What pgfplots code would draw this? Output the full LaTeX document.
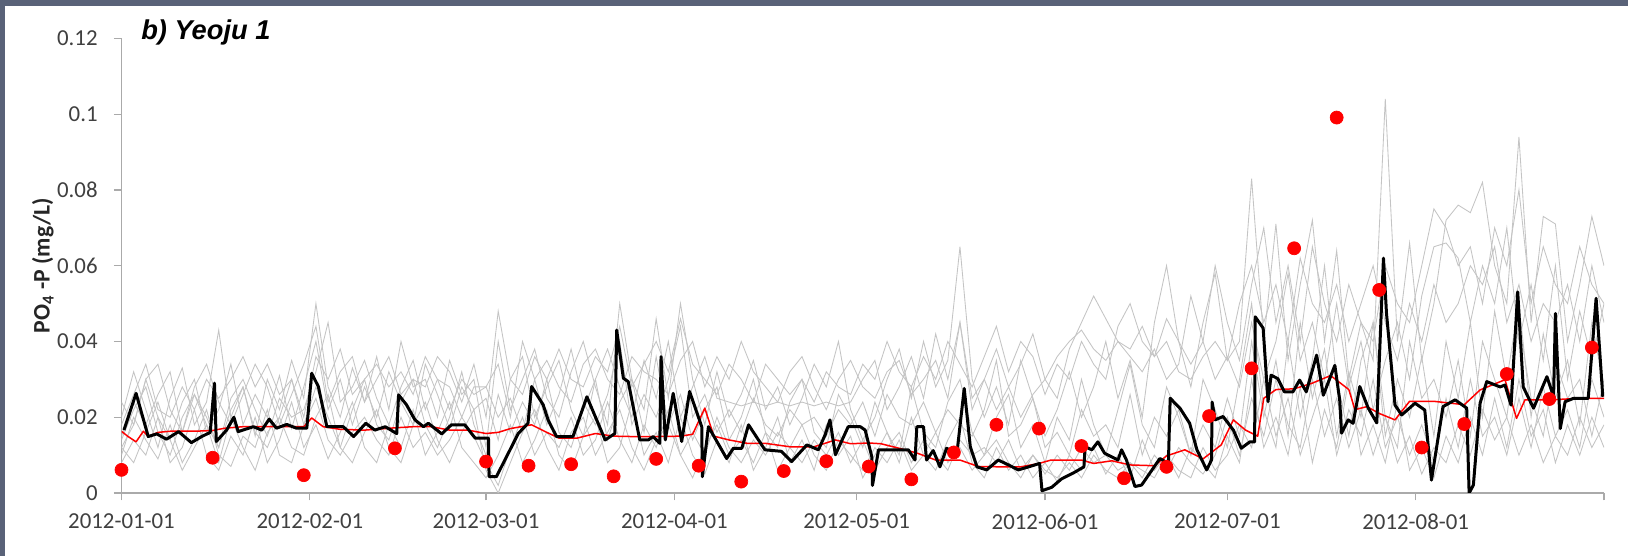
\documentclass[border=0pt]{standalone}
\usepackage{fontspec}
\setmainfont{Carlito}
\newfontfamily\titlefont{Liberation Sans}
\usepackage{pgfplots}
\usepackage{pgfplotstable}
\pgfplotsset{compat=1.18}
\definecolor{frame}{RGB}{89,98,120}
\definecolor{axgray}{RGB}{170,170,170}
\definecolor{ticktext}{RGB}{64,64,64}
\definecolor{ens}{RGB}{196,196,196}
\definecolor{obsred}{RGB}{255,0,0}

\pgfplotstableread{
d g1 g2 g3 g4 g5 g6 g7 g8 g9
0 0.020 0.012 0.008 0.015 0.010 0.018 0.014 0.012 0.024
2 0.032 0.018 0.014 0.024 0.020 0.026 0.022 0.008 0.018
4 0.022 0.030 0.010 0.018 0.014 0.034 0.028 0.016 0.030
6 0.012 0.020 0.020 0.026 0.009 0.022 0.016 0.024 0.034
8 0.025 0.014 0.008 0.032 0.018 0.020 0.010 0.014 0.022
10 0.033 0.024 0.012 0.016 0.008 0.028 0.020 0.006 0.016
12 0.018 0.030 0.022 0.026 0.014 0.022 0.026 0.012 0.028
14 0.024 0.016 0.010 0.020 0.022 0.030 0.018 0.018 0.034
16 0.043 0.022 0.006 0.012 0.010 0.025 0.012 0.008 0.024
18 0.020 0.034 0.015 0.025 0.007 0.030 0.022 0.020 0.018
20 0.028 0.018 0.010 0.030 0.015 0.036 0.028 0.012 0.026
22 0.015 0.026 0.020 0.022 0.012 0.028 0.016 0.006 0.034
24 0.030 0.020 0.008 0.015 0.022 0.034 0.012 0.016 0.028
26 0.022 0.031 0.014 0.025 0.010 0.026 0.020 0.020 0.018
28 0.035 0.017 0.024 0.020 0.008 0.030 0.030 0.012 0.026
30 0.025 0.028 0.012 0.022 0.018 0.020 0.018 0.010 0.034
32 0.050 0.040 0.018 0.032 0.025 0.036 0.028 0.020 0.044
34 0.028 0.022 0.009 0.045 0.014 0.030 0.020 0.026 0.024
36 0.020 0.030 0.016 0.024 0.010 0.038 0.012 0.012 0.032
38 0.033 0.018 0.024 0.028 0.016 0.026 0.022 0.008 0.036
40 0.024 0.028 0.012 0.035 0.020 0.030 0.030 0.016 0.024
42 0.036 0.020 0.008 0.025 0.014 0.034 0.018 0.022 0.030
44 0.022 0.032 0.018 0.018 0.010 0.028 0.014 0.012 0.036
46 0.040 0.024 0.012 0.028 0.020 0.032 0.024 0.008 0.026
48 0.028 0.018 0.022 0.035 0.012 0.026 0.030 0.018 0.030
50 0.030 0.034 0.010 0.022 0.016 0.036 0.018 0.024 0.028
52 0.020 0.026 0.016 0.030 0.010 0.030 0.012 0.014 0.036
54 0.035 0.017 0.024 0.028 0.014 0.022 0.020 0.008 0.032
56 0.026 0.028 0.012 0.020 0.020 0.030 0.032 0.016 0.024
58 0.030 0.022 0.008 0.028 0.015 0.026 0.018 0.022 0.034
60 0.012 0.025 0.004 0.028 0.008 0.028 0.010 0.006 0.020
62 0.040 0.014 0.010 0.020 0.002 0.034 0.026 0.000 0.048
64 0.022 0.030 0.018 0.025 0.012 0.020 0.016 0.008 0.030
66 0.030 0.036 0.008 0.016 0.020 0.040 0.024 0.016 0.026
68 0.038 0.020 0.014 0.030 0.010 0.030 0.018 0.022 0.036
70 0.025 0.028 0.022 0.018 0.016 0.035 0.030 0.012 0.030
72 0.020 0.035 0.010 0.026 0.012 0.028 0.016 0.006 0.038
74 0.032 0.022 0.006 0.038 0.020 0.024 0.012 0.016 0.030
76 0.040 0.015 0.015 0.024 0.010 0.034 0.022 0.020 0.028
78 0.028 0.030 0.020 0.018 0.014 0.038 0.030 0.010 0.036
80 0.018 0.038 0.008 0.026 0.024 0.030 0.014 0.016 0.032
82 0.050 0.028 0.012 0.040 0.014 0.026 0.024 0.022 0.044
84 0.030 0.020 0.024 0.018 0.008 0.036 0.030 0.012 0.028
86 0.022 0.035 0.010 0.026 0.018 0.032 0.016 0.006 0.034
88 0.046 0.025 0.016 0.020 0.012 0.030 0.036 0.014 0.040
90 0.025 0.040 0.008 0.030 0.022 0.026 0.018 0.018 0.032
92 0.050 0.020 0.020 0.044 0.010 0.035 0.026 0.010 0.046
94 0.030 0.028 0.010 0.020 0.016 0.040 0.014 0.004 0.034
96 0.018 0.036 0.005 0.026 0.010 0.028 0.022 0.012 0.030
98 0.032 0.025 0.014 0.016 0.020 0.036 0.028 0.018 0.026
100 0.020 0.024 0.008 0.022 0.012 0.030 0.014 0.010 0.034
102 0.026 0.023 0.018 0.016 0.008 0.040 0.020 0.014 0.030
104 0.035 0.024 0.006 0.025 0.014 0.032 0.030 0.008 0.024
106 0.022 0.023 0.012 0.018 0.010 0.028 0.016 0.016 0.034
108 0.028 0.024 0.020 0.015 0.016 0.024 0.012 0.006 0.030
110 0.018 0.023 0.008 0.022 0.012 0.032 0.024 0.012 0.026
112 0.025 0.024 0.014 0.018 0.008 0.036 0.030 0.018 0.030
114 0.034 0.023 0.006 0.020 0.014 0.028 0.016 0.010 0.024
116 0.028 0.024 0.018 0.015 0.010 0.022 0.012 0.006 0.032
118 0.040 0.023 0.010 0.022 0.016 0.030 0.026 0.014 0.028
120 0.022 0.024 0.015 0.018 0.008 0.035 0.020 0.010 0.026
122 0.014 0.030 0.004 0.024 0.014 0.028 0.012 0.006 0.034
124 0.020 0.035 0.010 0.015 0.006 0.025 0.024 0.012 0.030
126 0.030 0.022 0.016 0.026 0.012 0.032 0.016 0.008 0.040
128 0.038 0.028 0.008 0.020 0.016 0.035 0.010 0.014 0.032
130 0.025 0.036 0.020 0.018 0.008 0.026 0.028 0.006 0.028
132 0.040 0.025 0.010 0.024 0.014 0.030 0.016 0.010 0.036
134 0.028 0.042 0.006 0.016 0.010 0.035 0.012 0.016 0.030
136 0.035 0.030 0.014 0.022 0.006 0.025 0.024 0.008 0.040
138 0.065 0.045 0.020 0.018 0.014 0.045 0.030 0.012 0.034
140 0.030 0.025 0.008 0.015 0.010 0.022 0.016 0.006 0.028
142 0.020 0.030 0.004 0.022 0.012 0.030 0.010 0.010 0.036
144 0.028 0.022 0.012 0.035 0.008 0.038 0.020 0.014 0.044
146 0.018 0.028 0.006 0.015 0.014 0.028 0.026 0.008 0.032
148 0.035 0.020 0.010 0.018 0.006 0.034 0.012 0.004 0.040
150 0.025 0.026 0.004 0.025 0.010 0.042 0.018 0.010 0.036
152 0.015 0.030 0.008 0.012 0.005 0.030 0.008 0.006 0.026
154 0.022 0.036 0.003 0.016 0.010 0.025 0.020 0.004 0.034
156 0.032 0.040 0.010 0.010 0.006 0.038 0.014 0.008 0.030
158 0.020 0.043 0.006 0.022 0.012 0.045 0.030 0.004 0.040
160 0.028 0.038 0.012 0.015 0.008 0.052 0.018 0.010 0.034
162 0.040 0.035 0.005 0.018 0.010 0.046 0.010 0.006 0.030
164 0.025 0.040 0.010 0.012 0.006 0.040 0.022 0.004 0.044
166 0.035 0.036 0.004 0.026 0.008 0.038 0.034 0.008 0.050
168 0.020 0.032 0.014 0.010 0.004 0.044 0.018 0.006 0.040
170 0.045 0.038 0.006 0.020 0.010 0.036 0.012 0.004 0.036
172 0.060 0.030 0.010 0.015 0.006 0.040 0.028 0.010 0.046
174 0.040 0.034 0.004 0.022 0.012 0.032 0.020 0.006 0.040
176 0.028 0.052 0.012 0.010 0.008 0.030 0.010 0.004 0.034
178 0.045 0.040 0.008 0.018 0.005 0.036 0.030 0.012 0.040
180 0.058 0.030 0.004 0.012 0.010 0.040 0.022 0.006 0.060
182 0.035 0.036 0.015 0.025 0.020 0.035 0.012 0.010 0.045
184 0.040 0.028 0.008 0.015 0.010 0.050 0.030 0.018 0.035
186 0.083 0.045 0.030 0.040 0.025 0.060 0.050 0.012 0.055
188 0.040 0.030 0.012 0.020 0.015 0.045 0.022 0.030 0.070
190 0.071 0.040 0.020 0.035 0.030 0.055 0.012 0.015 0.045
192 0.035 0.058 0.010 0.015 0.018 0.040 0.040 0.025 0.060
194 0.055 0.035 0.028 0.045 0.012 0.062 0.020 0.010 0.040
196 0.072 0.045 0.008 0.025 0.030 0.050 0.035 0.020 0.065
198 0.040 0.030 0.022 0.038 0.015 0.045 0.060 0.030 0.050
200 0.064 0.050 0.012 0.015 0.025 0.055 0.030 0.010 0.040
202 0.030 0.028 0.030 0.032 0.012 0.040 0.015 0.022 0.055
204 0.045 0.040 0.010 0.020 0.022 0.050 0.035 0.015 0.045
206 0.035 0.022 0.018 0.045 0.010 0.060 0.045 0.030 0.040
208 0.104 0.035 0.008 0.015 0.020 0.045 0.020 0.012 0.060
210 0.040 0.045 0.024 0.030 0.008 0.035 0.012 0.020 0.050
212 0.066 0.030 0.006 0.020 0.015 0.050 0.040 0.010 0.045
214 0.035 0.052 0.012 0.036 0.005 0.040 0.025 0.018 0.060
216 0.050 0.065 0.004 0.015 0.012 0.055 0.030 0.008 0.075
218 0.072 0.066 0.015 0.040 0.008 0.045 0.020 0.025 0.070
220 0.076 0.062 0.008 0.025 0.018 0.050 0.035 0.012 0.060
222 0.074 0.045 0.020 0.045 0.010 0.060 0.015 0.030 0.065
224 0.082 0.060 0.010 0.020 0.022 0.055 0.040 0.015 0.050
226 0.060 0.050 0.025 0.048 0.014 0.065 0.030 0.020 0.070
228 0.050 0.070 0.012 0.030 0.020 0.045 0.020 0.010 0.060
230 0.094 0.040 0.030 0.050 0.010 0.055 0.045 0.025 0.080
232 0.045 0.055 0.015 0.020 0.018 0.040 0.025 0.012 0.050
234 0.073 0.035 0.022 0.042 0.008 0.050 0.015 0.028 0.065
236 0.071 0.060 0.008 0.025 0.015 0.045 0.035 0.015 0.055
238 0.040 0.030 0.018 0.035 0.010 0.055 0.025 0.022 0.050
240 0.055 0.048 0.010 0.018 0.020 0.040 0.030 0.012 0.065
242 0.073 0.035 0.020 0.045 0.012 0.060 0.015 0.030 0.055
244 0.060 0.050 0.012 0.028 0.018 0.045 0.030 0.020 0.050
}\enstable

\begin{document}
\begin{tikzpicture}
\useasboundingbox (0,0) rectangle (325.6mm,111.2mm);
\fill[frame] (0,0) rectangle (325.6mm,111.2mm);
\fill[white] (0.92mm,0) rectangle (325.6mm,110mm);
\begin{axis}[
  at={(24.3mm,12.6mm)}, anchor=south west,
  width=296.5mm, height=90.92mm, scale only axis,
  xmin=0, xmax=244, ymin=0, ymax=0.12,
  axis x line=bottom, axis y line=left,
  axis line style={axgray, line width=0.25mm, -},
  xtick={0,31,60,91,121,152,182,213,244},
  xticklabels={2012-01-01,2012-02-01,2012-03-01,2012-04-01,2012-05-01,2012-06-01,2012-07-01,2012-08-01,{}},
  ytick={0,0.02,0.04,0.06,0.08,0.1,0.12},
  yticklabels={0,0.02,0.04,0.06,0.08,0.1,0.12},
  tick align=outside,
  major tick length=1.5mm,
  tick style={axgray, line width=0.25mm},
  ticklabel style={font=\fontsize{13}{15}\selectfont, text=ticktext, inner sep=0pt},
  xticklabel style={anchor=north, yshift=-2.6mm},
  yticklabel style={anchor=east, xshift=-3.2mm},
  ylabel={PO\textsubscript{4} -P (mg/L)},
  ylabel style={at={(axis description cs:-0.053,0.5)}, anchor=center, font=\fontsize{13.5}{16}\selectfont\bfseries, text=black!85},
  title={\titlefont\bfseries\itshape b) Yeoju 1},
  title style={at={(axis description cs:0.0131,0.99)}, anchor=west, font=\fontsize{15.5}{18}\selectfont, inner sep=0pt},
  clip=true,
]
\foreach \g in {g1,g2,g3,g4,g5,g6,g7,g8,g9}{
  \addplot[ens, line width=0.17mm, mark=none] table[x=d,y=\g] {\enstable};
}
% model (red line)
\addplot[obsred, line width=0.3mm, mark=none, line join=round] coordinates {
(0,0.0163) (1,0.015) (2.4,0.0135) (3.6,0.0163) (4.4,0.0149) (6,0.016) (8,0.0163) (12,0.0163) (15,0.0165) (17,0.0171) (20,0.0175) (25,0.0175) (30,0.0175) (31.3,0.0198) (33.2,0.0175) (36,0.0168) (40,0.0166) (45,0.0172) (48,0.0175) (51,0.0175) (54,0.0166) (57,0.0166) (60,0.0157) (62,0.016) (64,0.017) (67.5,0.018) (70,0.016) (72,0.0145) (75,0.0145) (78,0.0157) (81,0.015) (84,0.0149) (88,0.0149) (92,0.015) (94,0.0155) (96,0.0224) (97.5,0.015) (100,0.014) (103,0.0131) (106,0.0131) (110,0.0122) (114,0.0122) (117.5,0.014) (120,0.013) (123,0.0132) (125,0.013) (128,0.0118) (131,0.0105) (134,0.0087) (138,0.0087) (141,0.007) (145,0.0069) (148,0.0069) (151,0.0078) (153,0.0087) (158,0.0087) (160,0.0078) (163,0.0085) (166,0.0074) (170,0.0072) (172,0.0098) (175,0.0114) (178,0.009) (181,0.0127) (183,0.0193) (185,0.0166) (187,0.015) (188,0.025) (190,0.0273) (193,0.0275) (196,0.029) (199,0.031) (202,0.0273) (203,0.022) (205,0.0228) (207,0.021) (209.6,0.0193) (212,0.0242) (216,0.0242) (221,0.0233) (223.6,0.0272) (227.7,0.0299) (229.6,0.0197) (231,0.0246) (235.4,0.0246) (240,0.025) (244,0.025)
};
% daily simulation (black line)
\addplot[black, line width=0.6mm, mark=none, line join=round] coordinates {
(0.4,0.0166) (2.4,0.0263) (4.4,0.0149) (5.8,0.0156) (7.4,0.0142) (9.4,0.0162) (11.5,0.0133) (13.2,0.0149) (14.6,0.016) (15.3,0.029) (15.6,0.0136) (17.3,0.0166) (18.5,0.02) (19.2,0.0162) (21.7,0.0175) (23.1,0.0166) (24.3,0.0195) (25.5,0.0171) (27.2,0.0181) (28.8,0.0171) (30.5,0.0171) (31.3,0.0316) (32.4,0.0281) (33.8,0.0175) (36.5,0.0175) (38.2,0.0149) (40.2,0.0184) (41.7,0.0166) (43.4,0.0175) (45.3,0.0157) (45.6,0.0259) (46.9,0.0233) (48.3,0.0193) (49.7,0.0175) (50.5,0.0184) (52.7,0.0156) (54.3,0.018) (56.5,0.018) (58.2,0.0145) (60.4,0.0145) (60.5,0.0043) (61.7,0.0043) (64.2,0.0122) (65.3,0.0157) (66.9,0.0184) (67.5,0.0281) (69.4,0.0233) (70.2,0.0193) (71.6,0.0149) (74.3,0.0149) (76.6,0.0254) (79.6,0.014) (81.2,0.0157) (81.5,0.043) (82.6,0.0303) (83.4,0.0294) (85.3,0.014) (86.7,0.014) (87.5,0.0149) (88.6,0.0131) (88.8,0.036) (89.5,0.014) (90.8,0.0263) (92.2,0.0136) (93.5,0.0268) (95.5,0.0175) (95.6,0.0043) (96.6,0.0175) (99.6,0.0091) (100.7,0.0118) (102.1,0.0118) (103.2,0.018) (105.9,0.0114) (108.6,0.011) (110.3,0.0083) (112.8,0.0127) (114.7,0.0114) (115.8,0.0153) (116.6,0.0193) (117.5,0.0101) (119.6,0.0175) (121.6,0.0175) (122.4,0.0166) (123.5,0.0095) (123.6,0.002) (124.6,0.0114) (129.5,0.0114) (130.6,0.0087) (130.9,0.0175) (132,0.0175) (132.5,0.0087) (133.6,0.0112) (134.7,0.0069) (135.8,0.0118) (136.6,0.0112) (137.5,0.0105) (138.7,0.0276) (139.7,0.0122) (140.8,0.0069) (142.4,0.0061) (144.3,0.0087) (146,0.0074) (147.6,0.0061) (149.3,0.0069) (151.1,0.0078) (151.5,0.0006) (153.1,0.0015) (154.7,0.0037) (156.9,0.0055) (158.4,0.0069) (158.6,0.0122) (159.7,0.0114) (160.7,0.0135) (161.8,0.0105) (164,0.0087) (164.6,0.0114) (165.4,0.0087) (166.8,0.0017) (167.9,0.0021) (170.9,0.0091) (172.3,0.0078) (172.6,0.025) (174.2,0.0224) (175.8,0.0184) (177,0.0114) (178.6,0.0061) (179.4,0.0087) (179.5,0.024) (180,0.0193) (181.3,0.0202) (183,0.0166) (184.3,0.0118) (185.7,0.0135) (186.5,0.0135) (186.6,0.0465) (187.9,0.0435) (188.7,0.0241) (189.2,0.0311) (190.3,0.0302) (191.4,0.0267) (192.8,0.0267) (193.9,0.0298) (195,0.0267) (196.7,0.0364) (197.8,0.0258) (199.7,0.0337) (200.5,0.0245) (200.8,0.0158) (201.9,0.0193) (202.7,0.0184) (203.8,0.0281) (205.2,0.0224) (206.6,0.0185) (207.7,0.062) (208.2,0.0474) (209.6,0.0232) (210.7,0.0206) (212.9,0.0237) (214.5,0.0219) (215.6,0.0034) (217.5,0.0228) (219.5,0.0246) (221.4,0.0224) (221.8,0.0) (222.5,0.0021) (223.6,0.0237) (224.7,0.0294) (226.9,0.028) (227.7,0.0285) (228.7,0.0232) (229.8,0.0531) (230.7,0.028) (232.4,0.0224) (234.6,0.0307) (235.7,0.0254) (236,0.0474) (236.8,0.017) (237.6,0.0241) (239,0.025) (241.4,0.025) (242.7,0.0514) (243.8,0.0254)
};
% observations (red dots)
\addplot[only marks, mark=*, mark size=1.3mm, color=obsred] coordinates {
(0,0.0061) (15,0.0093) (30,0.0047) (45,0.0118) (60,0.0083) (67,0.0072) (74,0.0076) (81,0.0044) (88,0.009) (95,0.0072) (102,0.003) (109,0.0058) (116,0.0084) (123,0.007) (130,0.0036) (137,0.0107) (144,0.018) (151,0.017) (158,0.0124) (165,0.0039) (172,0.0069) (179,0.0203) (186,0.0329) (193,0.0646) (200,0.0991) (207,0.0536) (214,0.012) (221,0.0182) (228,0.0314) (235,0.0248) (242,0.0384)
};
\end{axis}
\end{tikzpicture}
\end{document}
